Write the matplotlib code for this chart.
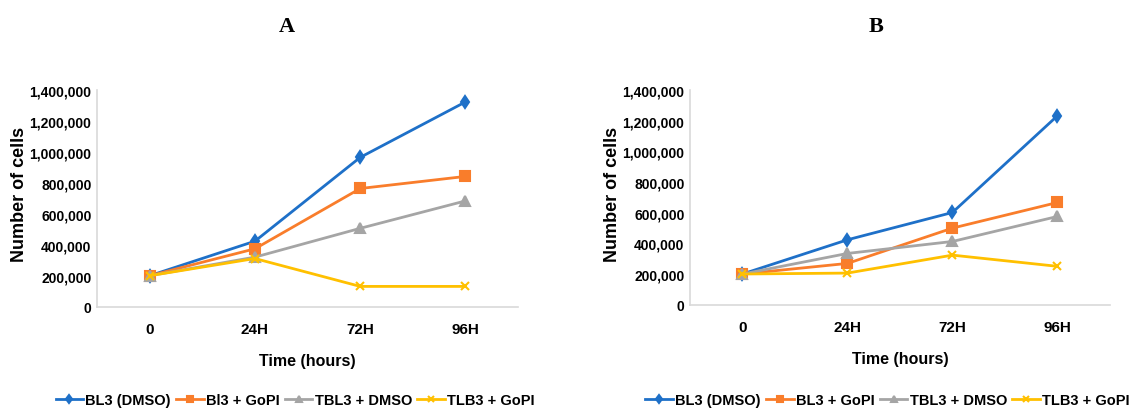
import matplotlib.pyplot as plt
from matplotlib.ticker import FuncFormatter

# data
times = ["0", "24H", "72H", "96H"]

a_bl3_dmso = [200000, 423000, 964000, 1322000]
a_bl3_gopi = [200000, 374000, 763000, 841000]
a_tbl3_dmso = [200000, 320000, 506000, 683000]
a_tlb3_gopi = [200000, 311000, 131000, 131000]
a_labels = ["BL3 (DMSO)", "Bl3 + GoPI", "TBL3 + DMSO", "TLB3 + GoPI"]

b_bl3_dmso = [200000, 423000, 601000, 1231000]
b_bl3_gopi = [200000, 269000, 499000, 666000]
b_tbl3_dmso = [200000, 334000, 412000, 575000]
b_tlb3_gopi = [200000, 206000, 323000, 250000]
b_labels = ["BL3 (DMSO)", "BL3 + GoPI", "TBL3 + DMSO", "TLB3 + GoPI"]

colors = ["#1E70C8", "#F97D2B", "#A5A5A5", "#FFC000"]
markers = ["d", "s", "^", "x"]
msizes = [6, 6.5, 6.5, 6]

plt.rcParams["font.family"] = ["Liberation Sans", "DejaVu Sans"]
plt.rcParams["font.weight"] = "bold"


def panel(ax, series, labels, title, legend_x):
    x = range(len(times))
    handles = []
    for ys, c, m, ms, lab in zip(series, colors, markers, msizes, labels):
        h, = ax.plot(x, ys, color=c, lw=2.0, marker=m, ms=ms, mew=1.5, label=lab)
        handles.append(h)
    ax.set_xlim(-0.5, len(times) - 0.5)
    ax.set_ylim(0, 1400000)
    ax.set_yticks(range(0, 1400001, 200000))
    ax.yaxis.set_major_formatter(FuncFormatter(lambda v, p: f"{int(v):,}"))
    ax.set_xticks(list(x))
    ax.set_xticklabels(times)
    ax.tick_params(length=0, labelsize=10, pad=4)
    ax.tick_params(axis="x", labelsize=11, pad=11)
    for s in ["top", "right"]:
        ax.spines[s].set_visible(False)
    for s in ["left", "bottom"]:
        ax.spines[s].set_color("#D9D9D9")
        ax.spines[s].set_linewidth(1.2)
    ax.set_xlabel("Time (hours)", fontsize=11.5, fontweight="bold")
    ax.xaxis.set_label_coords(0.5, -0.215)
    ax.set_ylabel("Number of cells", fontsize=13, fontweight="bold")
    ax.yaxis.set_label_coords(-0.165, 0.52)
    fig = ax.figure
    fig.text(title[1], 0.935, title[0], ha="center", va="center", fontsize=16,
             fontweight="bold", family=["Liberation Serif", "DejaVu Serif"])
    fig.legend(handles=handles, loc="center", bbox_to_anchor=(legend_x, 0.022),
               ncol=4, frameon=False, fontsize=10.5, handlelength=1.9,
               handletextpad=0.15, columnspacing=0.35, markerscale=0.75,
               borderpad=0.1)


fig = plt.figure(figsize=(11.35, 4.1), dpi=100)
ax_a = fig.add_axes([0.0855, 0.2495, 0.371, 0.529])
ax_b = fig.add_axes([0.6079, 0.2544, 0.370, 0.524])

panel(ax_a, [a_bl3_dmso, a_bl3_gopi, a_tbl3_dmso, a_tlb3_gopi], a_labels, ("A", 0.253), 0.260)
panel(ax_b, [b_bl3_dmso, b_bl3_gopi, b_tbl3_dmso, b_tlb3_gopi], b_labels, ("B", 0.772), 0.782)

fig.savefig("out.png", dpi=100)
